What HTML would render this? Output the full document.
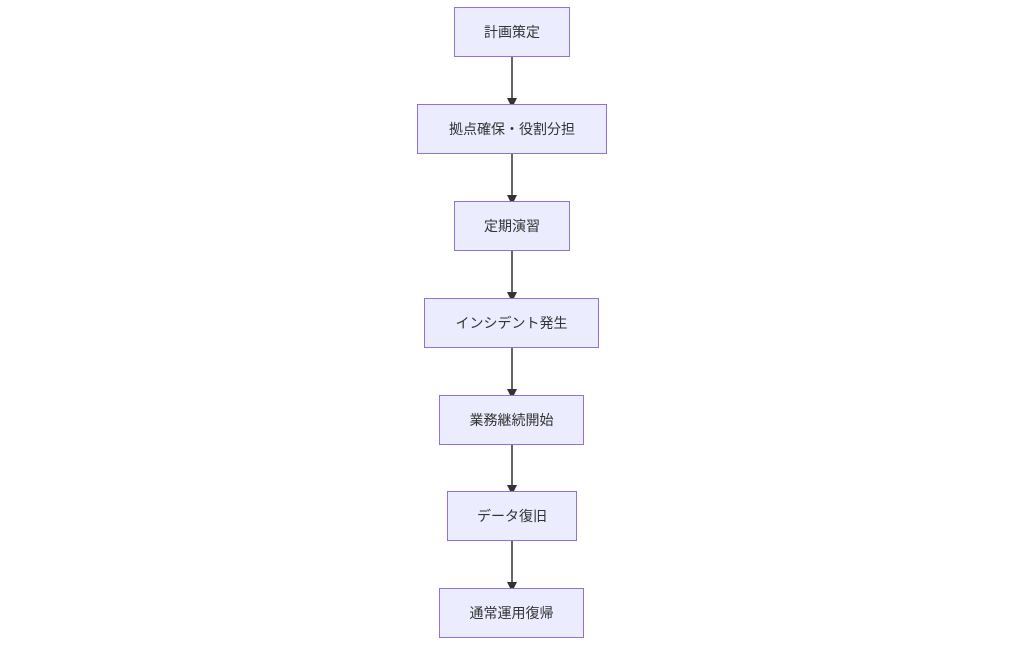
<!DOCTYPE html>
<html><head><meta charset="utf-8"><style>
body{margin:0;background:#fff;width:1024px;height:646px;position:relative;overflow:hidden;font-family:"Liberation Sans","Noto Sans CJK JP",sans-serif}
.n{position:absolute;box-sizing:border-box;background:#ECECFF;border:1px solid #9370DB;display:flex;align-items:center;justify-content:center;font-size:14px;color:#333;height:50px}
svg{position:absolute;left:0;top:0}
</style></head><body>
<svg width="1024" height="646">
<defs><marker id="a" markerWidth="10" markerHeight="10" refX="5" refY="5" orient="auto" markerUnits="userSpaceOnUse"><path d="M0,0L10,5L0,10z" fill="#333"/></marker></defs>
<g stroke="#333" stroke-width="1.5" marker-end="url(#a)">
<line x1="512" y1="57" x2="512" y2="103"/>
<line x1="512" y1="154" x2="512" y2="200"/>
<line x1="512" y1="251" x2="512" y2="297"/>
<line x1="512" y1="348" x2="512" y2="394"/>
<line x1="512" y1="445" x2="512" y2="490"/>
<line x1="512" y1="541" x2="512" y2="587"/>
</g></svg>
<div class="n" style="left:454px;top:7px;width:116px">計画策定</div>
<div class="n" style="left:417px;top:104px;width:190px">拠点確保・役割分担</div>
<div class="n" style="left:454px;top:201px;width:116px">定期演習</div>
<div class="n" style="left:424px;top:298px;width:175px">インシデント発生</div>
<div class="n" style="left:439px;top:395px;width:145px">業務継続開始</div>
<div class="n" style="left:447px;top:491px;width:130px">データ復旧</div>
<div class="n" style="left:439px;top:588px;width:145px">通常運用復帰</div>
</body></html>
